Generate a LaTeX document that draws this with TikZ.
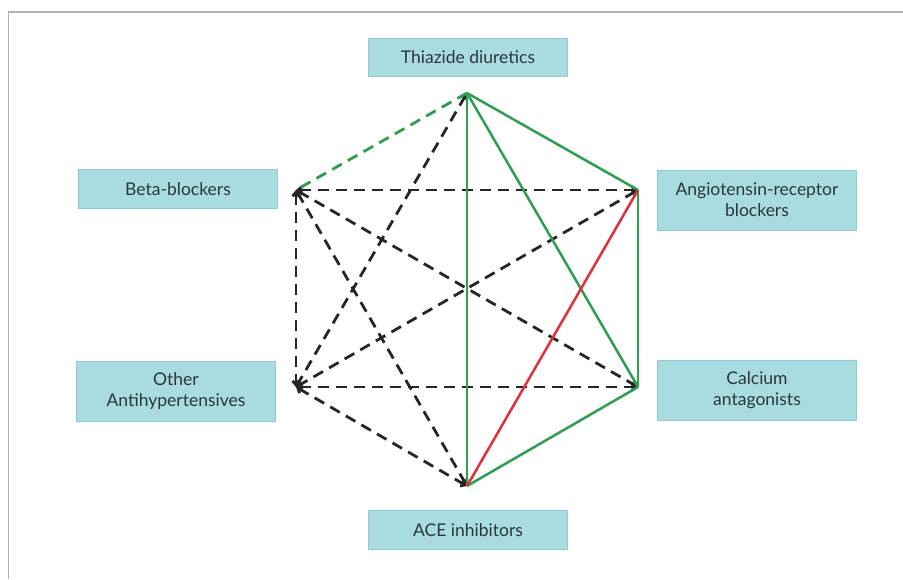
\documentclass[tikz,border=0pt]{standalone}
\usepackage{fontspec}
\setmainfont{Lato}
\usetikzlibrary{arrows.meta}
\definecolor{boxfill}{HTML}{A9DCE1}
\definecolor{boxline}{HTML}{8FCBD1}
\definecolor{boxtext}{HTML}{2A373D}
\definecolor{linkgreen}{HTML}{2E9E50}
\definecolor{linkred}{HTML}{E0313B}
\begin{document}
\begin{tikzpicture}[x=1pt, y=-1pt,
  drug/.style={draw=boxline, fill=boxfill, text=boxtext, line width=0.8pt,
    minimum width=199pt, align=center, font=\fontsize{17.5}{21}\selectfont},
  other/.style={black!85, line width=2.8pt, dash pattern=on 11pt off 7pt,
    {Straight Barb[length=4pt,width=7pt]}-{Straight Barb[length=4pt,width=7pt]}},
  otherg/.style={linkgreen, line width=2.8pt, dash pattern=on 11pt off 7pt},
  good/.style={linkgreen, line width=2.5pt},
  bad/.style={linkred, line width=2.5pt}]
\useasboundingbox (0, 0) rectangle (903, 579);
\draw[black!30, line width=1.2pt] (903, 12) -- (8.5, 12) -- (8.5, 579);
% boxes
\node[drug, minimum height=38pt] (thz) at (468, 57) {Thiazide diuretics};
\node[drug, minimum height=39pt] (bbl) at (178, 189) {Beta-blockers};
\node[drug, minimum height=60pt] (arb) at (757, 200) {Angiotensin-receptor\\blockers};
\node[drug, minimum height=60pt] (oth) at (176, 391) {Other\\Antihypertensives};
\node[drug, minimum height=60pt] (cca) at (757, 390) {Calcium\\antagonists};
\node[drug, minimum height=39pt] (ace) at (468, 530) {ACE inhibitors};
% corners
\coordinate (t) at (467, 93);
\coordinate (b) at (296, 190);
\coordinate (a) at (638, 190);
\coordinate (o) at (296, 387);
\coordinate (c) at (638, 387);
\coordinate (e) at (467, 486);
% links
\draw[other] (b) -- (a);
\draw[other] (b) -- (c);
\draw[other] (b) -- (o);
\draw[other] (b) -- (e);
\draw[other] (t) -- (o);
\draw[other] (a) -- (o);
\draw[other] (o) -- (c);
\draw[other] (o) -- (e);
\draw[otherg] (t) -- (b);
\draw[good] (t) -- (e);
\draw[good] (t) -- (c);
\draw[good] (t) -- (a);
\draw[good] (a) -- (c);
\draw[good] (c) -- (e);
\draw[bad] (a) -- (e);
\end{tikzpicture}
\end{document}
